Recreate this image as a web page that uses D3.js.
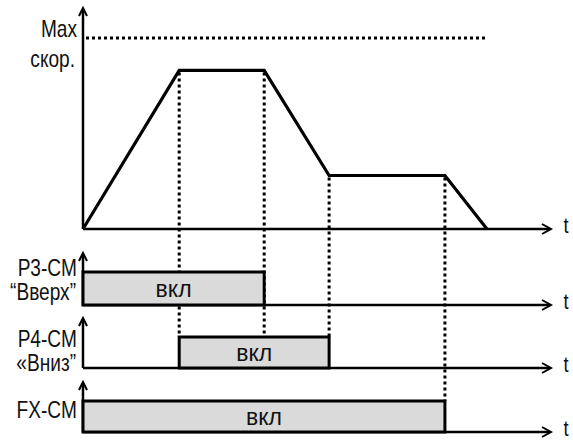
<!DOCTYPE html>
<html>
<head>
<meta charset="utf-8">
<script src="https://cdn.jsdelivr.net/npm/d3@7"></script>
<style>
  html, body { margin: 0; padding: 0; background: #fff; }
  svg text { font-family: "Liberation Sans", Arial, sans-serif; fill: #111; }
</style>
</head>
<body>
<svg id="chart" width="573" height="441"></svg>
<script>
// ---- data ----
// speed profile, % of max speed, at each time instant (arbitrary time units)
const speedTimes = [0, 2.06, 3.88, 5.27, 7.75, 8.65];
const speedValues = [0, 83, 83, 28, 28, 0];
const maxSpeed = 100;
const maxLineEnd = 8.67;
// signals: names, sublabels and ON intervals
const signalNames = ["P3-CM", "P4-CM", "FX-CM"];
const signalSubLabels = ["“Вверх”", "«Вниз”", ""];
const signalOnStart = [0, 2.06, 0];
const signalOnEnd = [3.88, 5.27, 7.75];
const onLabel = "вкл";
const axisLabel = "t";
const speedLabels = ["Max", "скор."];
// dotted guide lines: time, from speed value, down to top of signal panel
const guideTimes = [2.06, 3.88, 5.27, 7.75];
const guideFromSpeed = [83, 83, 28, 28];
const guideToSignal = [1, 1, 1, 2];

// ---- layout ----
const svg = d3.select("#chart");
const x = d3.scaleLinear().domain([0, 10]).range([83, 550]);
const ySpeed = d3.scaleLinear().domain([0, maxSpeed]).range([229, 38]);
const panelBase = [305, 368, 432];
const panelTop = [272, 337, 401];
const panelArrowTop = [253, 318, 382];
const ySig = panelBase.map((b, i) => d3.scaleLinear().domain([0, 1]).range([b, panelTop[i]]));

// condensed label (narrow look)
function label(tx, ty, str, anchor, size) {
  svg.append("text")
    .attr("transform", `translate(${tx},${ty}) scale(0.83,1)`)
    .attr("text-anchor", anchor).attr("font-size", size).text(str);
}

function hArrow(y) {
  const xe = x.range()[1];
  svg.append("line").attr("x1", x(0)).attr("x2", xe).attr("y1", y).attr("y2", y)
    .attr("stroke", "#000").attr("stroke-width", 2.5);
  svg.append("path").attr("d", `M${xe - 8},${y - 5}L${xe + 1},${y}L${xe - 8},${y + 5}`)
    .attr("fill", "none").attr("stroke", "#000").attr("stroke-width", 2);
  label(xe + 16, y + 4, axisLabel, "middle", 22);
}
function vArrow(yBottom, yTop) {
  const xa = x(0);
  svg.append("line").attr("x1", xa).attr("x2", xa).attr("y1", yBottom).attr("y2", yTop + 1)
    .attr("stroke", "#000").attr("stroke-width", 2.5);
  svg.append("path").attr("d", `M${xa - 4},${yTop + 8}L${xa},${yTop}L${xa + 4},${yTop + 8}`)
    .attr("fill", "none").attr("stroke", "#000").attr("stroke-width", 2);
}

// dotted guides (drawn first, bars cover them)
guideTimes.forEach((t, i) => {
  svg.append("line")
    .attr("x1", x(t)).attr("x2", x(t))
    .attr("y1", ySpeed(guideFromSpeed[i]) + 2)
    .attr("y2", ySig[guideToSignal[i]](1))
    .attr("stroke", "#000").attr("stroke-width", 3).attr("stroke-dasharray", "3,3");
});

// max speed dotted line
svg.append("line")
  .attr("x1", x(0) + 3).attr("x2", x(maxLineEnd))
  .attr("y1", ySpeed(maxSpeed)).attr("y2", ySpeed(maxSpeed))
  .attr("stroke", "#000").attr("stroke-width", 3).attr("stroke-dasharray", "3,3");

// speed axes
vArrow(ySpeed(0), 8);
hArrow(ySpeed(0));

// speed profile
const speedData = speedTimes.map((t, i) => [t, speedValues[i]]);
svg.append("path")
  .datum(speedData)
  .attr("d", d3.line().x(d => x(d[0])).y(d => ySpeed(d[1])))
  .attr("fill", "none").attr("stroke", "#000").attr("stroke-width", 3.2)
  .attr("stroke-linejoin", "miter");

// speed labels
label(77, 37, speedLabels[0], "end", 23);
label(75, 67, speedLabels[1], "end", 23);

// signal panels
const nameY = [276, 347, 418];
const nameX = [77, 77, 77];
const subY = [300, 371, 0];
signalNames.forEach((name, i) => {
  vArrow(panelBase[i], panelArrowTop[i]);
  hArrow(panelBase[i]);
  const x0 = x(signalOnStart[i]), x1 = x(signalOnEnd[i]);
  svg.append("rect")
    .attr("x", x0).attr("y", ySig[i](1))
    .attr("width", x1 - x0).attr("height", ySig[i](0) - ySig[i](1))
    .attr("fill", "#dadada").attr("stroke", "#000").attr("stroke-width", 3);
  svg.append("text")
    .attr("x", (x0 + x1) / 2).attr("y", (ySig[i](0) + ySig[i](1)) / 2 + 8)
    .attr("text-anchor", "middle").attr("font-size", 23).text(onLabel);
  label(nameX[i], nameY[i], name, "end", 23);
  if (signalSubLabels[i]) {
    label(76, subY[i], signalSubLabels[i], "end", 23);
  }
});
</script>
</body>
</html>
